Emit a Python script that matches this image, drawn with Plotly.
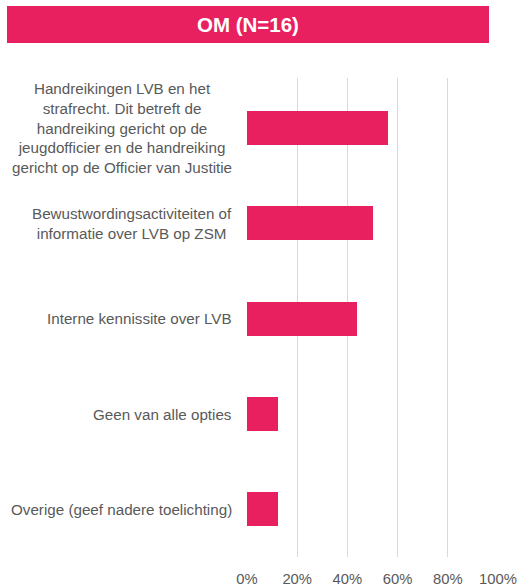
import plotly.graph_objects as go

categories = [
    "Handreikingen LVB en het<br>strafrecht. Dit betreft de<br>handreiking gericht op de<br>jeugdofficier en de handreiking<br>gericht op de Officier van Justitie",
    "Bewustwordingsactiviteiten of<br>informatie over LVB op ZSM",
    "Interne kennissite over LVB",
    "Geen van alle opties",
    "Overige (geef nadere toelichting)",
]
values = [56.25, 50.0, 43.75, 12.5, 12.5]
tick_vals = [0, 20, 40, 60, 80, 100]
tick_text = ["0%", "20%", "40%", "60%", "80%", "100%"]
title_text = "OM (N=16)"

PINK = "#E8205F"
GRAY_TXT = "#595959"
FONT = "Liberation Sans, Arial, sans-serif"

W, H = 521, 587
L, T = 247, 78
PW, PH = 251, 479
R = W - L - PW
B = H - T - PH

fig = go.Figure()
fig.add_trace(go.Bar(
    x=values, y=categories, orientation="h",
    marker=dict(color=PINK, line=dict(width=0)),
    width=0.355, hoverinfo="skip",
))

def px_x(p):  # page pixel -> paper
    return (p - L) / PW

def px_y(p):
    return 1 + (T - p) / PH

fig.add_shape(type="rect", xref="paper", yref="paper",
              x0=px_x(7), x1=px_x(489), y0=px_y(43), y1=px_y(6),
              fillcolor=PINK, line=dict(width=0), layer="above")

annotations = [dict(
    text=f"<b>{title_text}</b>", xref="paper", yref="paper",
    x=px_x(248), y=px_y(24.5), xanchor="center", yanchor="middle",
    showarrow=False, font=dict(family=FONT, size=20.5, color="white"),
)]
for c in categories:
    annotations.append(dict(
        text=c, xref="paper", yref="y", x=0, y=c, xshift=-13,
        xanchor="right", yanchor="middle", align="center", showarrow=False,
        font=dict(family=FONT, size=15.2, color=GRAY_TXT),
    ))

fig.update_layout(
    width=W, height=H, autosize=False,
    margin=dict(l=L, r=R, t=T, b=B, pad=0, autoexpand=False),
    paper_bgcolor="white", plot_bgcolor="white",
    showlegend=False,
    annotations=annotations,
    bargap=0,
    xaxis=dict(
        range=[0, 100], tickvals=tick_vals, ticktext=tick_text,
        showgrid=True, gridcolor="#D9D9D9", gridwidth=1.3,
        zeroline=False, showline=False, automargin=False,
        ticks="outside", ticklen=8, tickcolor="rgba(0,0,0,0)",
        tickfont=dict(family=FONT, size=14.8, color=GRAY_TXT),
        fixedrange=True,
    ),
    yaxis=dict(
        type="category", categoryorder="array", categoryarray=categories,
        autorange="reversed", showticklabels=False, showgrid=False,
        zeroline=False, showline=False, ticks="", fixedrange=True,
        automargin=False,
    ),
)

fig.write_html(
    "out.html",
    config={"displayModeBar": False, "responsive": False},
    post_script="document.body.style.margin='0';document.body.style.overflow='hidden';",
)
